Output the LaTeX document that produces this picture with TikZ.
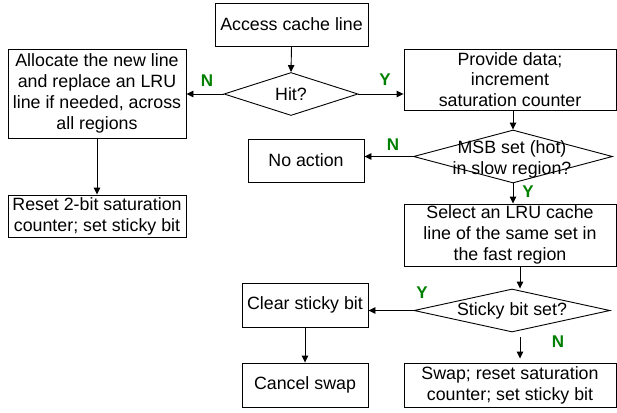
\documentclass[tikz,border=0pt]{standalone}
\usepackage{fontspec}
\setmainfont{Liberation Sans}
\usetikzlibrary{shapes.geometric,arrows.meta}
\definecolor{yesno}{RGB}{0,128,0}
\begin{document}
\begin{tikzpicture}[x=1pt,y=-1pt,
  every node/.style={font=\fontsize{17.8}{20.8}\selectfont},
  box/.style={draw,rectangle,line width=0.9pt,inner sep=0pt,align=center},
  decision/.style={draw,diamond,line width=0.9pt,inner sep=0pt},
  caption/.style={inner sep=0pt,align=center},
  answer/.style={inner sep=0pt,text=yesno,font=\fontsize{17}{20}\selectfont\bfseries},
  flow/.style={line width=0.9pt,-{Triangle[length=7pt,width=6.5pt]}}]
\useasboundingbox (0,0) rectangle (617,412);

% process boxes
\node[box,minimum width=153,minimum height=43] (access) at (291.5,24.5) {Access cache line};
\node[box,minimum width=178,minimum height=89] (alloc) at (97,93.5)
  {Allocate the new line\\and replace an LRU\\line if needed, across\\all regions};
\node[box,minimum width=178,minimum height=42] (reset) at (97,216)
  {Reset 2-bit saturation\\counter; set sticky bit};
\node[box,minimum width=212,minimum height=61] (provide) at (510,79.5)
  {Provide data;\\increment\\saturation counter};
\node[box,minimum width=116,minimum height=43] (noact) at (306,160.5) {No action};
\node[box,minimum width=212,minimum height=62] (select) at (510,235)
  {Select an LRU cache\\line of the same set in\\the fast region};
\node[box,minimum width=126,minimum height=44] (clear) at (305,305) {Clear sticky bit};
\node[box,minimum width=126,minimum height=44] (cancel) at (305,385) {Cancel swap};
\node[box,minimum width=212,minimum height=44] (swap) at (510,385)
  {Swap; reset saturation\\counter; set sticky bit};

% decisions
\node[decision,minimum width=134,minimum height=43] (hit) at (291,94) {};
\node[caption] (hitT) at (hit) {Hit?};
\node[decision,minimum width=199,minimum height=53] (msb) at (513,156.5) {};
\node[caption] (msbT) at (512,159) {MSB set (hot)\\in slow region?};
\node[decision,minimum width=196,minimum height=43] (sticky) at (512,310.5) {};
\node[caption] (stickyT) at (sticky) {Sticky bit set?};

% connectors
\draw[flow] (access.south) -- (hit.north);
\draw[flow] (hit.west) -- (hit.west -| alloc.east);
\draw[flow] (hit.east) -- (hit.east -| provide.west);
\draw[flow] (alloc.south) -- (reset.north);
\draw[flow] (msb.north |- provide.south) -- (msb.north);
\draw[flow] (msb.west) -- (msb.west -| noact.east);
\draw[flow] (msb.south) -- (msb.south |- select.north);
\draw[flow] ([xshift=10pt]select.south) -- ([xshift=8pt]sticky.north);
\draw[flow] (sticky.west) -- (sticky.west -| clear.east);
\draw[flow] (clear.south) -- (cancel.north);
\draw[flow] ([xshift=8pt,yshift=-5pt]sticky.south) -- ([xshift=10pt,yshift=4pt]swap.north);

% branch labels
\node[answer] (n1) at (207,81) {N};
\node[answer] (y1) at (385,80) {Y};
\node[answer] (n2) at (393,145) {N};
\node[answer] (y2) at (528,192) {Y};
\node[answer] (y3) at (422,293) {Y};
\node[answer] (n3) at (558,342) {N};
\end{tikzpicture}
\end{document}
